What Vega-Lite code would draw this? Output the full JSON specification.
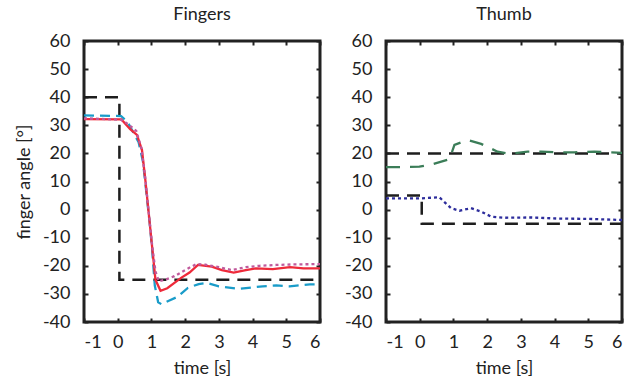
{
  "$schema": "https://vega.github.io/schema/vega-lite/v6.json",
  "background": "white",
  "padding": {"left": 13, "top": 4, "right": 4, "bottom": 4},
  "config": {
    "view": {"stroke": "#222", "strokeWidth": 3},
    "axis": {"domain": false, "grid": false, "ticks": true, "tickSize": 4, "offset": -4, "tickColor": "#222", "tickWidth": 2,
      "labelFont": "Lato", "labelFontSize": 18, "labelColor": "#222", "labelPadding": 14,
      "labelExpr": "toString(datum.value)",
      "titleFont": "Lato", "titleFontSize": 18, "titleFontWeight": "normal", "titleColor": "#222", "titlePadding": 9},
    "axisBottom": {"labelPadding": 11, "titlePadding": 8},
    "title": {"font": "Lato", "fontSize": 18, "fontWeight": "normal", "color": "#222", "offset": 8}
  },
  "data": {"values": [
    {"panel": "Fingers", "series": "target", "i": 1, "t": -1, "v": 40},
    {"panel": "Fingers", "series": "target", "i": 2, "t": 0.05, "v": 40},
    {"panel": "Fingers", "series": "target", "i": 3, "t": 0.05, "v": -25},
    {"panel": "Fingers", "series": "target", "i": 4, "t": 6, "v": -25},

    {"panel": "Fingers", "series": "blue", "t": -1, "v": 33.5},
    {"panel": "Fingers", "series": "blue", "t": 0.1, "v": 33.3},
    {"panel": "Fingers", "series": "blue", "t": 0.3, "v": 31},
    {"panel": "Fingers", "series": "blue", "t": 0.62, "v": 24},
    {"panel": "Fingers", "series": "blue", "t": 0.75, "v": 17},
    {"panel": "Fingers", "series": "blue", "t": 0.85, "v": 6},
    {"panel": "Fingers", "series": "blue", "t": 0.95, "v": -5},
    {"panel": "Fingers", "series": "blue", "t": 1.02, "v": -14},
    {"panel": "Fingers", "series": "blue", "t": 1.1, "v": -27},
    {"panel": "Fingers", "series": "blue", "t": 1.2, "v": -33},
    {"panel": "Fingers", "series": "blue", "t": 1.3, "v": -33.7},
    {"panel": "Fingers", "series": "blue", "t": 1.5, "v": -32.5},
    {"panel": "Fingers", "series": "blue", "t": 1.78, "v": -31},
    {"panel": "Fingers", "series": "blue", "t": 2.08, "v": -27.9},
    {"panel": "Fingers", "series": "blue", "t": 2.4, "v": -26.5},
    {"panel": "Fingers", "series": "blue", "t": 2.64, "v": -26.1},
    {"panel": "Fingers", "series": "blue", "t": 3.0, "v": -27.3},
    {"panel": "Fingers", "series": "blue", "t": 3.6, "v": -28.2},
    {"panel": "Fingers", "series": "blue", "t": 4.3, "v": -27.3},
    {"panel": "Fingers", "series": "blue", "t": 4.7, "v": -27},
    {"panel": "Fingers", "series": "blue", "t": 5.1, "v": -27.3},
    {"panel": "Fingers", "series": "blue", "t": 5.7, "v": -26.6},
    {"panel": "Fingers", "series": "blue", "t": 6, "v": -26.6},

    {"panel": "Fingers", "series": "red", "t": -1, "v": 32.2},
    {"panel": "Fingers", "series": "red", "t": 0.11, "v": 32.1},
    {"panel": "Fingers", "series": "red", "t": 0.37, "v": 28.6},
    {"panel": "Fingers", "series": "red", "t": 0.57, "v": 26.6},
    {"panel": "Fingers", "series": "red", "t": 0.72, "v": 21.2},
    {"panel": "Fingers", "series": "red", "t": 0.82, "v": 10.5},
    {"panel": "Fingers", "series": "red", "t": 0.92, "v": -1.3},
    {"panel": "Fingers", "series": "red", "t": 1.02, "v": -13.2},
    {"panel": "Fingers", "series": "red", "t": 1.12, "v": -25},
    {"panel": "Fingers", "series": "red", "t": 1.27, "v": -28.9},
    {"panel": "Fingers", "series": "red", "t": 1.47, "v": -28},
    {"panel": "Fingers", "series": "red", "t": 1.88, "v": -24.3},
    {"panel": "Fingers", "series": "red", "t": 2.13, "v": -22.4},
    {"panel": "Fingers", "series": "red", "t": 2.38, "v": -19.7},
    {"panel": "Fingers", "series": "red", "t": 2.79, "v": -20.3},
    {"panel": "Fingers", "series": "red", "t": 3.09, "v": -21.5},
    {"panel": "Fingers", "series": "red", "t": 3.44, "v": -22.4},
    {"panel": "Fingers", "series": "red", "t": 3.8, "v": -21.5},
    {"panel": "Fingers", "series": "red", "t": 4.1, "v": -20.9},
    {"panel": "Fingers", "series": "red", "t": 4.6, "v": -21.2},
    {"panel": "Fingers", "series": "red", "t": 5.11, "v": -20.5},
    {"panel": "Fingers", "series": "red", "t": 5.51, "v": -20.9},
    {"panel": "Fingers", "series": "red", "t": 6, "v": -20.9},

    {"panel": "Fingers", "series": "pink", "t": -1, "v": 32.5},
    {"panel": "Fingers", "series": "pink", "t": 0.1, "v": 32},
    {"panel": "Fingers", "series": "pink", "t": 0.3, "v": 30.5},
    {"panel": "Fingers", "series": "pink", "t": 0.55, "v": 28},
    {"panel": "Fingers", "series": "pink", "t": 0.7, "v": 22},
    {"panel": "Fingers", "series": "pink", "t": 0.82, "v": 11},
    {"panel": "Fingers", "series": "pink", "t": 0.92, "v": -1},
    {"panel": "Fingers", "series": "pink", "t": 1.02, "v": -12.5},
    {"panel": "Fingers", "series": "pink", "t": 1.12, "v": -22},
    {"panel": "Fingers", "series": "pink", "t": 1.22, "v": -25.5},
    {"panel": "Fingers", "series": "pink", "t": 1.4, "v": -25},
    {"panel": "Fingers", "series": "pink", "t": 1.68, "v": -23.7},
    {"panel": "Fingers", "series": "pink", "t": 2.0, "v": -21.5},
    {"panel": "Fingers", "series": "pink", "t": 2.33, "v": -19.4},
    {"panel": "Fingers", "series": "pink", "t": 2.6, "v": -19.6},
    {"panel": "Fingers", "series": "pink", "t": 3.0, "v": -20.5},
    {"panel": "Fingers", "series": "pink", "t": 3.39, "v": -21.5},
    {"panel": "Fingers", "series": "pink", "t": 3.8, "v": -20.5},
    {"panel": "Fingers", "series": "pink", "t": 4.2, "v": -20},
    {"panel": "Fingers", "series": "pink", "t": 4.7, "v": -19.7},
    {"panel": "Fingers", "series": "pink", "t": 5.2, "v": -19.5},
    {"panel": "Fingers", "series": "pink", "t": 6, "v": -19.4},

    {"panel": "Thumb", "series": "target1", "i": 1, "t": -1, "v": 20},
    {"panel": "Thumb", "series": "target1", "i": 2, "t": 6, "v": 20},
    {"panel": "Thumb", "series": "target2", "i": 1, "t": -1, "v": 5},
    {"panel": "Thumb", "series": "target2", "i": 2, "t": 0.06, "v": 5},
    {"panel": "Thumb", "series": "target2", "i": 3, "t": 0.06, "v": -5},
    {"panel": "Thumb", "series": "target2", "i": 4, "t": 6, "v": -5},

    {"panel": "Thumb", "series": "green", "t": -1, "v": 15.1},
    {"panel": "Thumb", "series": "green", "t": -0.56, "v": 15.1},
    {"panel": "Thumb", "series": "green", "t": -0.01, "v": 15.3},
    {"panel": "Thumb", "series": "green", "t": 0.39, "v": 16.2},
    {"panel": "Thumb", "series": "green", "t": 0.88, "v": 17.9},
    {"panel": "Thumb", "series": "green", "t": 1.03, "v": 23},
    {"panel": "Thumb", "series": "green", "t": 1.42, "v": 24.8},
    {"panel": "Thumb", "series": "green", "t": 1.82, "v": 23.4},
    {"panel": "Thumb", "series": "green", "t": 2.31, "v": 20.6},
    {"panel": "Thumb", "series": "green", "t": 2.66, "v": 19.8},
    {"panel": "Thumb", "series": "green", "t": 3.2, "v": 20.6},
    {"panel": "Thumb", "series": "green", "t": 3.6, "v": 20.6},
    {"panel": "Thumb", "series": "green", "t": 4.19, "v": 20.4},
    {"panel": "Thumb", "series": "green", "t": 4.59, "v": 20.4},
    {"panel": "Thumb", "series": "green", "t": 5.18, "v": 20.6},
    {"panel": "Thumb", "series": "green", "t": 6, "v": 20.2},

    {"panel": "Thumb", "series": "navy", "t": -1, "v": 4.0},
    {"panel": "Thumb", "series": "navy", "t": 0.03, "v": 4.0},
    {"panel": "Thumb", "series": "navy", "t": 0.58, "v": 4.4},
    {"panel": "Thumb", "series": "navy", "t": 0.93, "v": 0.5},
    {"panel": "Thumb", "series": "navy", "t": 1.18, "v": -0.4},
    {"panel": "Thumb", "series": "navy", "t": 1.52, "v": 0.5},
    {"panel": "Thumb", "series": "navy", "t": 1.82, "v": -0.7},
    {"panel": "Thumb", "series": "navy", "t": 2.12, "v": -2.5},
    {"panel": "Thumb", "series": "navy", "t": 2.51, "v": -2.9},
    {"panel": "Thumb", "series": "navy", "t": 3.3, "v": -2.8},
    {"panel": "Thumb", "series": "navy", "t": 4.1, "v": -3.2},
    {"panel": "Thumb", "series": "navy", "t": 4.99, "v": -3.3},
    {"panel": "Thumb", "series": "navy", "t": 6, "v": -3.7}
  ]},
  "spacing": 15,
  "hconcat": [
    {
      "width": 236, "height": 281,
      "title": "Fingers",
      "resolve": {"axis": {"x": "independent", "y": "independent"}},
      "layer": [
        {
          "transform": [{"filter": "datum.panel === 'Fingers' && datum.series === 'target'"}],
          "mark": {"type": "line", "color": "#1e1e1e", "strokeWidth": 2.5, "strokeDash": [13, 8]},
          "encoding": {
            "x": {"field": "t", "type": "quantitative", "scale": {"domain": [-1, 6]}, "axis": {"orient": "bottom", "values": [-1, 0, 1, 2, 3, 4, 5, 6], "title": "time [s]"}},
            "y": {"field": "v", "type": "quantitative", "scale": {"domain": [-40, 60]}, "axis": {"orient": "left", "values": [-40, -30, -20, -10, 0, 10, 20, 30, 40, 50, 60], "title": "finger angle [°]"}},
            "order": {"field": "i"}
          }
        },
        {
          "transform": [{"filter": "datum.panel === 'Fingers' && datum.series === 'blue'"}],
          "mark": {"type": "line", "color": "#1a9cc9", "strokeWidth": 2.3, "strokeDash": [10, 6]},
          "encoding": {
            "x": {"field": "t", "type": "quantitative", "scale": {"domain": [-1, 6]}, "axis": {"orient": "top", "values": [-1, 0, 1, 2, 3, 4, 5, 6], "labels": false, "title": null}},
            "y": {"field": "v", "type": "quantitative", "scale": {"domain": [-40, 60]}, "axis": {"orient": "right", "values": [-40, -30, -20, -10, 0, 10, 20, 30, 40, 50, 60], "labels": false, "title": null}}
          }
        },
        {
          "transform": [{"filter": "datum.panel === 'Fingers' && datum.series === 'red'"}],
          "mark": {"type": "line", "color": "#ee2a3a", "strokeWidth": 2.3},
          "encoding": {
            "x": {"field": "t", "type": "quantitative", "scale": {"domain": [-1, 6]}, "axis": null},
            "y": {"field": "v", "type": "quantitative", "scale": {"domain": [-40, 60]}, "axis": null}
          }
        },
        {
          "transform": [{"filter": "datum.panel === 'Fingers' && datum.series === 'pink'"}],
          "mark": {"type": "line", "color": "#c05a9c", "strokeWidth": 2.3, "strokeDash": [3, 3]},
          "encoding": {
            "x": {"field": "t", "type": "quantitative", "scale": {"domain": [-1, 6]}, "axis": null},
            "y": {"field": "v", "type": "quantitative", "scale": {"domain": [-40, 60]}, "axis": null}
          }
        }
      ]
    },
    {
      "width": 236, "height": 281,
      "title": "Thumb",
      "resolve": {"axis": {"x": "independent", "y": "independent"}},
      "layer": [
        {
          "transform": [{"filter": "datum.panel === 'Thumb' && (datum.series === 'target1' || datum.series === 'target2')"}],
          "mark": {"type": "line", "color": "#1e1e1e", "strokeWidth": 2.5, "strokeDash": [13, 8]},
          "encoding": {
            "x": {"field": "t", "type": "quantitative", "scale": {"domain": [-1, 6]}, "axis": {"orient": "bottom", "values": [-1, 0, 1, 2, 3, 4, 5, 6], "title": "time [s]"}},
            "y": {"field": "v", "type": "quantitative", "scale": {"domain": [-40, 60]}, "axis": {"orient": "left", "values": [-40, -30, -20, -10, 0, 10, 20, 30, 40, 50, 60], "title": null}},
            "detail": {"field": "series"},
            "order": {"field": "i"}
          }
        },
        {
          "transform": [{"filter": "datum.panel === 'Thumb' && datum.series === 'green'"}],
          "mark": {"type": "line", "color": "#3b7d58", "strokeWidth": 2.3, "strokeDash": [14, 10]},
          "encoding": {
            "x": {"field": "t", "type": "quantitative", "scale": {"domain": [-1, 6]}, "axis": {"orient": "top", "values": [-1, 0, 1, 2, 3, 4, 5, 6], "labels": false, "title": null}},
            "y": {"field": "v", "type": "quantitative", "scale": {"domain": [-40, 60]}, "axis": {"orient": "right", "values": [-40, -30, -20, -10, 0, 10, 20, 30, 40, 50, 60], "labels": false, "title": null}}
          }
        },
        {
          "transform": [{"filter": "datum.panel === 'Thumb' && datum.series === 'navy'"}],
          "mark": {"type": "line", "color": "#2d2d9c", "strokeWidth": 2.3, "strokeDash": [3, 3]},
          "encoding": {
            "x": {"field": "t", "type": "quantitative", "scale": {"domain": [-1, 6]}, "axis": null},
            "y": {"field": "v", "type": "quantitative", "scale": {"domain": [-40, 60]}, "axis": null}
          }
        }
      ]
    }
  ]
}
